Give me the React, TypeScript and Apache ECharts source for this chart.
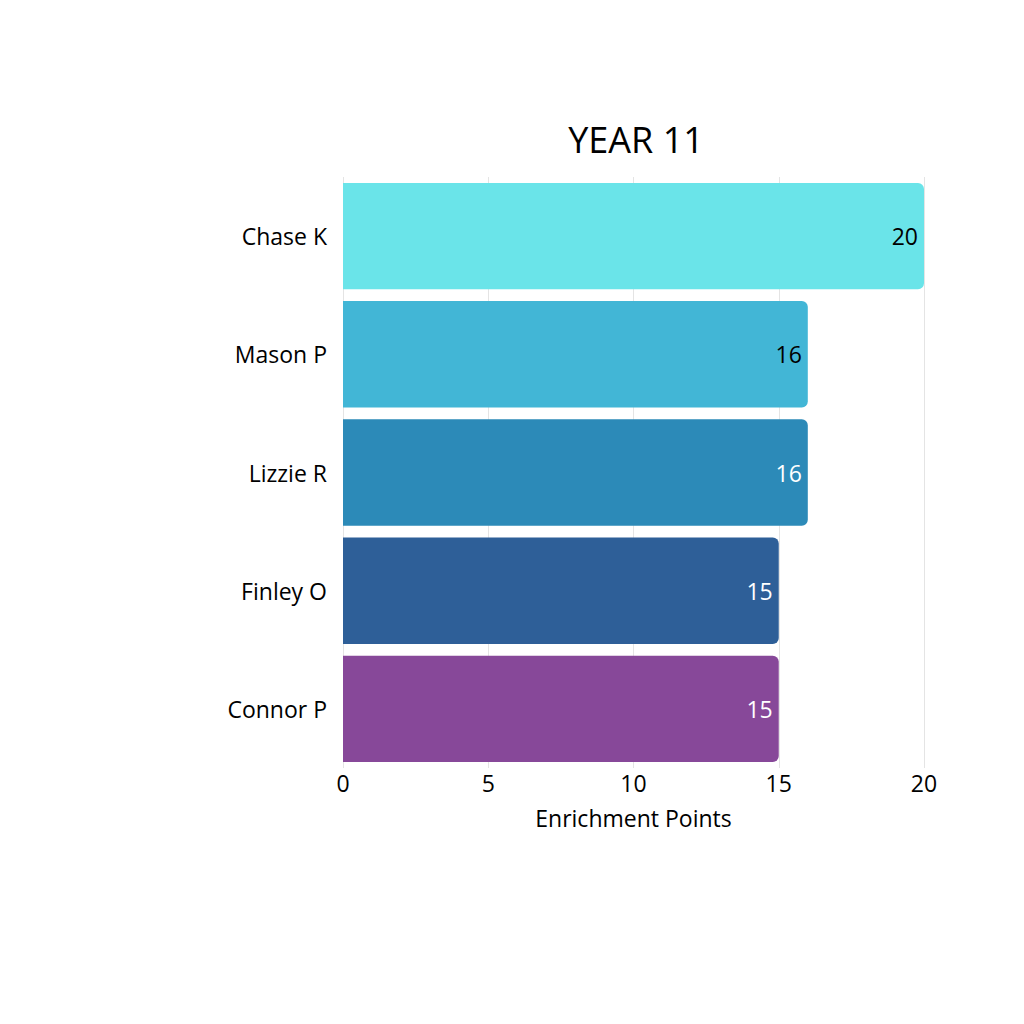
import React, { useEffect, useRef } from "react";
import * as echarts from "echarts";

const categories = ["Chase K", "Mason P", "Lizzie R", "Finley O", "Connor P"];
const values = [20, 16, 16, 15, 15];
const barColors = ["#6AE4E9", "#42B6D6", "#2C8AB8", "#2E5F98", "#874899"];
const labelColors = ["#000000", "#000000", "#ffffff", "#ffffff", "#ffffff"];
const xTicks = [0, 5, 10, 15, 20];

const FONT = "'Open Sans', 'Noto Sans', sans-serif";

export default function App() {
  const ref = useRef<HTMLDivElement>(null);
  useEffect(() => {
    if (!ref.current) return;
    const chart = echarts.init(ref.current, null, { renderer: "svg" });
    chart.setOption({
      animation: false,
      backgroundColor: "#ffffff",
      title: {
        text: "YEAR 11",
        left: 631,
        top: 116,
        textAlign: "center",
        textStyle: { fontFamily: FONT, fontSize: 36, fontWeight: "normal", color: "#000" },
      },
      grid: { left: 343, right: 100, top: 177, bottom: 256, containLabel: false },
      xAxis: {
        type: "value",
        min: xTicks[0],
        max: xTicks[xTicks.length - 1],
        interval: 5,
        name: "Enrichment Points",
        nameLocation: "middle",
        nameGap: 38,
        nameTextStyle: { fontFamily: FONT, fontSize: 23, color: "#000" },
        axisLine: { show: false },
        axisTick: { show: false },
        axisLabel: { fontFamily: FONT, fontSize: 23, color: "#000", margin: 3 },
        splitLine: { show: true, lineStyle: { color: "#e4e4e4", width: 1 } },
      },
      yAxis: {
        type: "category",
        data: categories,
        inverse: true,
        axisLine: { show: false },
        axisTick: { show: false },
        axisLabel: { fontFamily: FONT, fontSize: 23, color: "#000", margin: 16 },
      },
      series: [
        {
          type: "bar",
          barCategoryGap: "10%",
          data: values.map((v, i) => ({
            value: v,
            itemStyle: { color: barColors[i], borderRadius: [0, 6, 6, 0] },
            label: { color: labelColors[i] },
          })),
          label: {
            show: true,
            position: "insideRight",
            distance: 6,
            fontFamily: FONT,
            fontSize: 23,
          },
        },
      ],
    });
    return () => chart.dispose();
  }, []);
  return <div ref={ref} style={{ width: 1024, height: 1024, position: "absolute", left: 0, top: 0 }} />;
}
